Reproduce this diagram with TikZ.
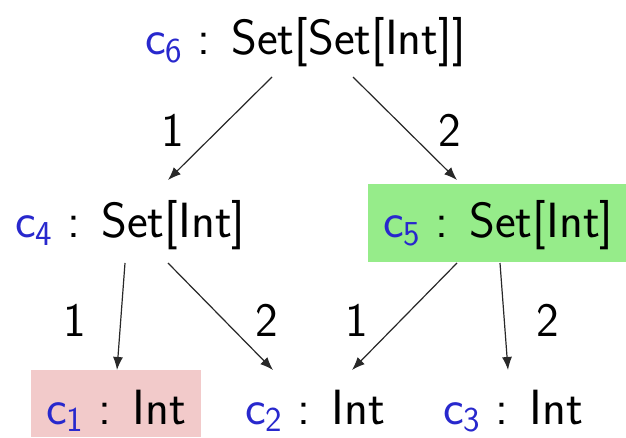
\documentclass[tikz,border=0pt]{standalone}
\usetikzlibrary{arrows.meta,calc}
\definecolor{cblue}{RGB}{40,40,205}
\definecolor{boxgreen}{RGB}{150,236,138}
\definecolor{boxpink}{RGB}{242,202,202}
\definecolor{linegray}{RGB}{40,40,40}
\newcommand{\cv}[1]{{\color{cblue}c\raisebox{-0.15em}{\fontsize{35}{35}\selectfont #1}}}
\tikzset{
  lab/.style={anchor=base west, inner xsep=15pt, inner ysep=18pt,
    text height=36pt, text depth=6pt, font=\fontsize{49.5}{59}\selectfont\sffamily},
  bottomlab/.style={lab, inner ysep=13pt, text height=41pt, text depth=0pt},
  num/.style={anchor=center, inner sep=0pt, font=\fontsize{48}{58}\selectfont\sffamily},
  arr/.style={draw=linegray, line width=1.2pt, -{Latex[length=13pt,width=10pt]}}
}
\begin{document}
\begin{tikzpicture}[x=1pt,y=-1pt]
\fill[white] (0,0) rectangle (626,438);
\useasboundingbox (0,0) rectangle (626,438);
\node[lab] (c6) at (130,55) {\cv{6} : Set[Set[Int]]};
\node[lab] (c4) at (0,238) {\cv{4} : Set[Int]};
\node[lab, fill=boxgreen] (c5) at (368,238) {\cv{5} : Set[Int]};
\node[bottomlab, fill=boxpink] (c1) at (31,424) {\cv{1} : Int};
\node[bottomlab] (c2) at (230,424) {\cv{2} : Int};
\node[bottomlab] (c3) at (428,424) {\cv{3} : Int};
\node[num] (l1) at (173,130) {1};
\node[num] (l2) at (450,130) {2};
\node[num] (l3) at (75,320) {1};
\node[num] (l4) at (267,320) {2};
\node[num] (l5) at (357,320) {1};
\node[num] (l6) at (548,320) {2};
\draw[arr] ($(c6.base west)+(142,22)$) -- ($(c4.base west)+(168,-58)$);
\draw[arr] ($(c6.base west)+(223,22)$) -- ($(c5.base west)+(89,-58)$);
\draw[arr] ($(c4.base west)+(125,25)$) -- ($(c1.base west)+(86,-54)$);
\draw[arr] ($(c4.base west)+(168,25)$) -- ($(c2.base west)+(43,-54)$);
\draw[arr] ($(c5.base west)+(89,25)$) -- ($(c2.base west)+(122,-54)$);
\draw[arr] ($(c5.base west)+(132,25)$) -- ($(c3.base west)+(80,-54)$);
\end{tikzpicture}
\end{document}
